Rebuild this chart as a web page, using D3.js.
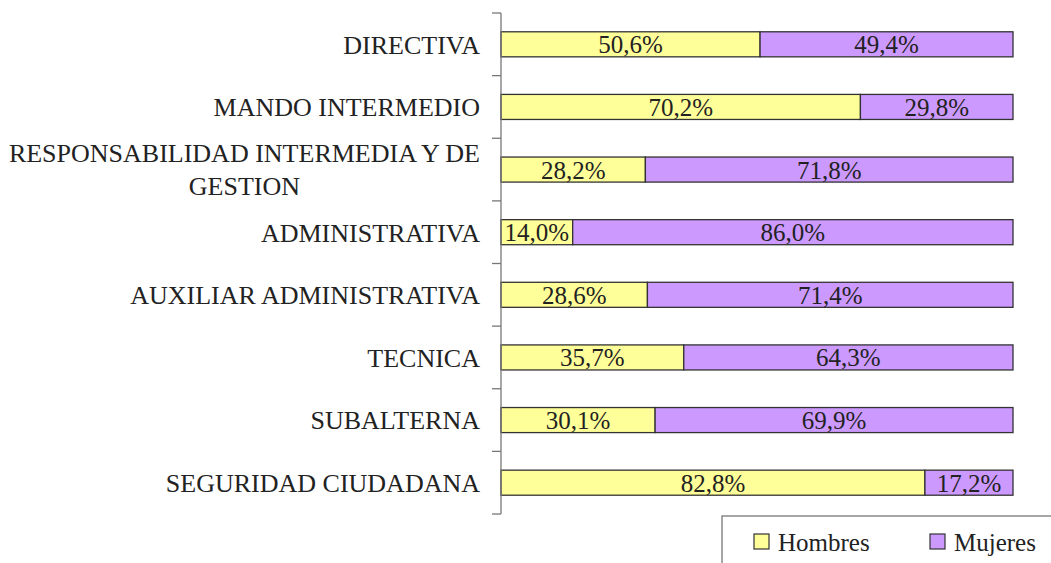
<!DOCTYPE html>
<html>
<head>
<meta charset="utf-8">
<script src="https://cdn.jsdelivr.net/npm/d3@7"></script>
<style>
  body { margin: 0; background: #fff; }
  svg text { font-family: "Liberation Serif", "Times New Roman", serif; }
</style>
</head>
<body>
<script>
// data
const categories = [
  "DIRECTIVA",
  "MANDO INTERMEDIO",
  "RESPONSABILIDAD INTERMEDIA Y DE|GESTION",
  "ADMINISTRATIVA",
  "AUXILIAR ADMINISTRATIVA",
  "TECNICA",
  "SUBALTERNA",
  "SEGURIDAD CIUDADANA",
];
const hombres = [50.6, 70.2, 28.2, 14.0, 28.6, 35.7, 30.1, 82.8];
const mujeres = [49.4, 29.8, 71.8, 86.0, 71.4, 64.3, 69.9, 17.2];
const seriesNames = ["Hombres", "Mujeres"];
const colors = ["#ffff99", "#cc99ff"];

const width = 1051, height = 563;
const margin = { top: 13, right: 38, bottom: 49, left: 501 };

const rows = categories.map((c, i) => ({ cat: c, Hombres: hombres[i], Mujeres: mujeres[i] }));
const stacked = d3.stack().keys(seriesNames)(rows);

const x = d3.scaleLinear().domain([0, 100]).range([margin.left, width - margin.right]);
const y = d3.scaleBand().domain(categories).range([margin.top, height - margin.bottom]).paddingInner(0.6).paddingOuter(0.3);
const band = d3.scaleBand().domain(categories).range([margin.top, height - margin.bottom]);

const svg = d3.select("body").append("svg")
  .attr("width", width).attr("height", height);

const fmt = (v) => d3.format(".1f")(v).replace(".", ",") + "%";

// bars
stacked.forEach((s, si) => {
  const g = svg.append("g");
  g.selectAll("rect").data(s).join("rect")
    .attr("x", (d) => x(d[0]))
    .attr("y", (d) => y(d.data.cat))
    .attr("width", (d) => x(d[1]) - x(d[0]))
    .attr("height", y.bandwidth())
    .attr("fill", colors[si])
    .attr("stroke", "#333")
    .attr("stroke-width", 1.3);
  g.selectAll("text").data(s).join("text")
    .attr("x", (d) => (x(d[0]) + x(d[1])) / 2)
    .attr("y", (d) => y(d.data.cat) + y.bandwidth() / 2)
    .attr("dy", "0.36em")
    .attr("text-anchor", "middle")
    .attr("font-size", 25)
    .attr("fill", "#222")
    .text((d) => fmt(d[1] - d[0]));
});

// axis
const ax = svg.append("g");
ax.append("line")
  .attr("x1", margin.left).attr("x2", margin.left)
  .attr("y1", margin.top).attr("y2", height - margin.bottom)
  .attr("stroke", "#777").attr("stroke-width", 1.3);
const ticks = categories.map((c) => band(c)).concat([height - margin.bottom]);
ax.selectAll(".tick").data(ticks).join("line")
  .attr("x1", margin.left - 9).attr("x2", margin.left)
  .attr("y1", (d) => d).attr("y2", (d) => d)
  .attr("stroke", "#777").attr("stroke-width", 1.3);

// category labels (second line centred under the first)
const labelRight = 480;
svg.append("g").selectAll("text").data(categories).join("text")
  .attr("font-size", 26)
  .attr("fill", "#222")
  .each(function (c) {
    const lines = c.split("|");
    const cy = band(c) + band.bandwidth() / 2;
    const t = d3.select(this);
    if (lines.length === 1) {
      t.attr("text-anchor", "end");
      t.append("tspan").attr("x", labelRight).attr("y", cy).attr("dy", "0.36em").text(lines[0]);
    } else {
      t.attr("text-anchor", "middle");
      const first = t.append("tspan").attr("y", cy - 16.5).attr("dy", "0.36em").text(lines[0]);
      const w = first.node().getComputedTextLength();
      first.attr("x", labelRight - w / 2);
      t.append("tspan").attr("x", labelRight - w / 2).attr("y", cy + 16.5).attr("dy", "0.36em").text(lines[1]);
    }
  });

// legend
const lg = svg.append("g");
lg.append("rect")
  .attr("x", 722).attr("y", 516).attr("width", 340).attr("height", 60)
  .attr("fill", "#fff").attr("stroke", "#777").attr("stroke-width", 1.3);
const legX = [754, 930];
seriesNames.forEach((n, i) => {
  lg.append("rect")
    .attr("x", legX[i]).attr("y", 534).attr("width", 15).attr("height", 15)
    .attr("fill", colors[i]).attr("stroke", "#333").attr("stroke-width", 1.2);
  lg.append("text")
    .attr("x", legX[i] + 24).attr("y", 541.5).attr("dy", "0.36em")
    .attr("font-size", 25).attr("fill", "#222").text(n);
});
</script>
</body>
</html>
